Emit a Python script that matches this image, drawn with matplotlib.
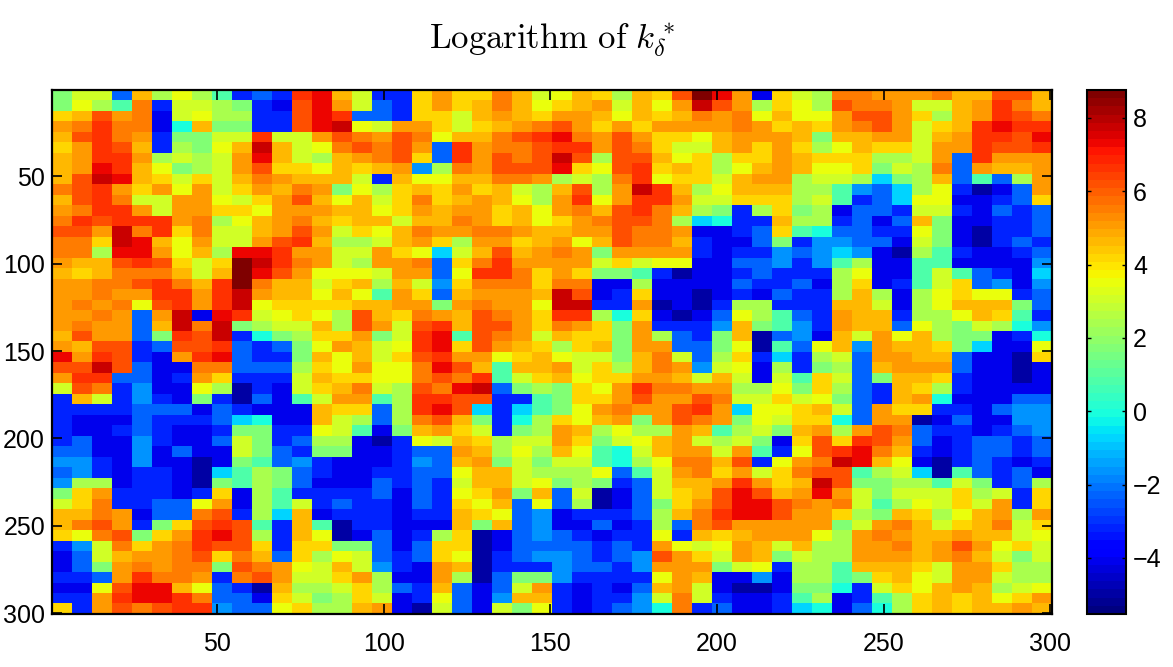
import matplotlib
matplotlib.use("Agg")
import matplotlib.pyplot as plt
import numpy as np

plt.rcParams['font.family'] = ['Liberation Sans', 'DejaVu Sans']
plt.rcParams['mathtext.fontset'] = 'cm'

# colour letters -> value on the colorbar
levels = {'N': -5.0, 'B': -4.0, 'b': -3.2, 'c': -2.4, 'd': -1.6, 'e': -0.7, 'f': 0.0,
          'g': 0.9, 'h': 1.7, 'i': 2.4, 'j': 3.0, 'k': 3.6, 'l': 4.1, 'm': 4.6,
          'n': 5.1, 'o': 5.6, 'p': 6.1, 'q': 6.7, 'r': 7.2, 's': 7.8, 't': 8.6}

rows = [
    "hjjcmikigbcb qrmjbblnllomj kmlimlptrnBl jioonnnommppm",
    "hkigobjjihbB prnjcblnlmomk lmnjmknspnil kipoonjjmnqom",
    "lmpnoBjkiibb prqccblljmnml nnmkmlmonokm kknppnlimnqpo",
    "noqooBfmhhbb prskjnnljlmno pnlnlnnnnonl mlnopnjlmqrqq",
    "mpqonbhhjjqj jnponpokmmopq ronpnllkmnnn mhmmnnjmnqqpr",
    "lnqpmbihkmsm jkopopncqnoop qqnpoljjmnln likmlljnnqppq",
    "mnqqnijijnrm jimnoplcqnpop spippmklilln mllliijncqnnn",
    "mnrqmkhijnpl lkmlmndionppp rlkpqlmlikmn mkklhjiocnmmn",
    "mpsrmljljmon mmmjbmkkmmoon ijioqklljmnn ijjiehimcgcin",
    "opqnlnknjlnm onhkilmlnlmji mpinsqmikmmm iigdceikbNBcn",
    "mpqojjnnkjln pmkmjlolmnmki nqknqqnjjlll ijgbcekkBBbcl",
    "noqqnjnnllkn nnmmklnmnnlmk nompqomihbil hiBccbjjbBcbc",
    "oqpqqqnoikmn omlmmjmmonlmklnoppo iefbbmiibcBcmhBBbbc",
    "ppnsoqlojjmn pnjlkmonnoonmmnnpoo nBBbclgfccbbkhBNbbc",
    "oolsrmknjjnp qmiijmnlinnlmnkmpoo mbBBchbddccBjhBNbcb",
    "ooirrnkmirrq nnjjnlkejmpmnonhnnn nbBbbdcdedBNigbBBbc",
    "nmmpqpljltsq onjinnocloqnnnnjljk kBBccdbdgiBBggBBBBd",
    "mlmooomjmtrp nkkkjnnckqqolnlhhgb NBBbcbbbikBBgjgcbBe",
    "nnoopqomqtom mjlmimjdlooolooBBiB BBBcbbcBilBbgjlcdBd",
    "nnonnqqnqsnm mkmkgnlcmnnnmspBblB BNBbBcbbimiBiklkkbc",
    "nonokpqnqskl lllmmnnhnonnkssbbnN BNbiibbbmmjBikmmmhc",
    "nnoncnsBrqjk lkipmlonmponlqqiflB NBckigcbnmmbiikmlgb",
    "nonncmsoshij jmipnjpqmppnlonlhnb bbdmhgdbnmmckihjifd",
    "mpnnchqpsbfh illnhjqrgponjmllhni cbhmNcdBmjnkmihhBbf",
    "nmppbcppqcbc hknmjkqrlpnmlilmhnn cchkNgckmdnmmlheBBk",
    "rnqpbBnqrcbb hmkmjlpqnnklmkjjhmo jcilbebijcnnmmcBBNl",
    "ppspcBBooccc ilknkkorpmgmmnjlimo ndjkBibhicmnnncBBNB",
    "nqqccBbnlbbb jmllkkopoqgjlmkllnn mjmjBjgljchmmlbBBNB",
    "jpobdBBkiNbB jlmojiporschihlknqo onniikhlicbmlibBBBB",
    "bmjbdbBhbNcB gjnngiqqppbbghllnpn npojjljkhcbmnfBBBcc",
    "bbbbcccBcbBB Bmllciqrpebeghknonn pqnekklmjcnllbbBcdd",
    "bBBBcbbbcefB Bmjiciopmhbfilkmnhn ponhkjllfcnnNBcBBdd",
    "bBBbcbBBbhhb bkjgBhmnljbhinmikii nmgijhmninpocbbBbcd",
    "bcBBdbBBcjhb ciiBNbkjmlijjnlhjkm njijhBlplqpncBbccbc",
    "ccBBdBcBBjhc bhhBBbccnmikimkgfjm nnjngbkpqrombBbccbc",
    "ddbBdBBNBhgc dbBBBbdcmnhjhjjgfik oompbknosrmkBNbcbBb",
    "cdbBbbBNegih cbBBbbcckmmjiiikcgj nolnjloppgijeNgcbcB",
    "diiBbbBNhgih cBBBcbcbjmmjkhihbcj mmnqnlmsphhiigjhbci",
    "hlnbbbBblBig bbbbcBcbklnhmcjNBcj lmprpmnrnjhjjjlijbl",
    "jlobbccknBig jbcbbBcblkmckciNBch lnprrponojgikjljnbl",
    "mmonBccopbie mBbbbBbbmlkcdBbbbci moqrrpnnlihmlikmnin",
    "mopnbhlpqpgb mgNbbBBBmhmcdBBcBbi copnnnnnhjnomjlmojl",
    "lkophlnqrpib mkNBcBbilNBcdcbBbbk bmlmnnnkinonmmnmmjk",
    "bdjolnoqpplb llhhcBcllNBccccbcbn kjknmjmiinnomnpnklj",
    "Bcjmnnoplomc likjcbclkNbcddcbcdp nljnmhjiinnnmnomjhj",
    "Bchnonoohpon kjmjdbBnmNbbbdccbdn nnhjkbiigmmmljnnlii",
    "bbcnqoonbopn jjlniBBniNchhdbbbbk nmBBdBiighlmkjnnjii",
    "BBkprrmkcbNm iijlicbmcBcjnbBbBcm njBNNBhhfbjlkmnmijk",
    "bbnqrrqoccBl jhiljBbkcBdmmbBbbdj ojbBBbgiBbgilmlmkln",
    "lbnpopqqdcck liimnBNjcBjhkbBbcdf obcBBbefBcfilmlmmnm",
]
xticks = [50, 100, 150, 200, 250, 300]
yticks = [50, 100, 150, 200, 250, 300]
cticks = [-4, -2, 0, 2, 4, 6, 8]
vmin = -5.53
vmax = 8.76

data = np.array([[levels[ch] for ch in r.replace(" ", "")] for r in rows])

fig = plt.figure(figsize=(11.73, 6.67), dpi=100)
W, H = 1173.0, 667.0
ax = fig.add_axes([52/W, 1-614/H, 1000/W, 524/H])
cax = fig.add_axes([1087/W, 1-614/H, 39/W, 524/H])

im = ax.imshow(data, cmap=plt.get_cmap('jet', 64), vmin=vmin, vmax=vmax, aspect='auto',
               interpolation='nearest', extent=(0.5, 300.5, 300.5, 0.5))
ax.set_xticks(xticks)
ax.set_yticks(yticks)
ax.tick_params(direction='in', length=7.5, width=1.2, top=True, right=True, labelsize=18)
ax.tick_params(axis='x', pad=13)
ax.tick_params(axis='y', pad=5)

cb = fig.colorbar(im, cax=cax)
cb.set_ticks(cticks)
cax.tick_params(direction='in', length=3, width=1, left=True, right=True, labelsize=18, pad=5)
cb.outline.set_linewidth(1.5)
for s in ax.spines.values():
    s.set_linewidth(1.6)

fig.text(552/W, 1-40/H, r"$\mathrm{Logarithm\ of}\ k_\delta^*$", fontsize=25, ha='center', va='center')

fig.savefig("out.png", dpi=100)
